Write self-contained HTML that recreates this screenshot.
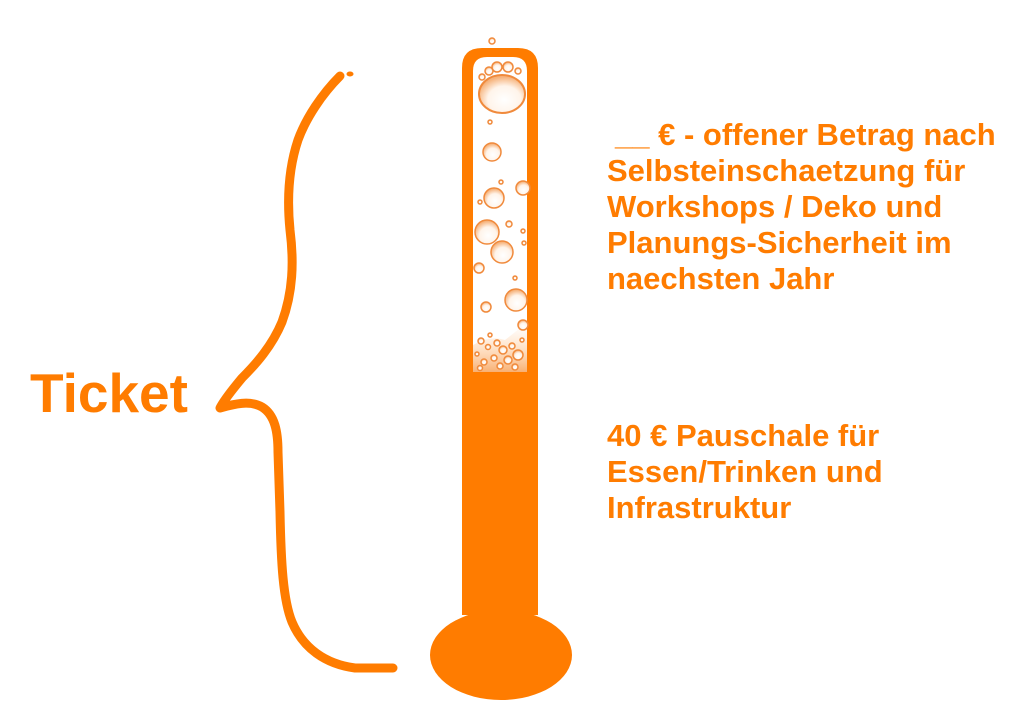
<!DOCTYPE html>
<html>
<head>
<meta charset="utf-8">
<style>
  html,body{margin:0;padding:0;background:#fff;}
  body{width:1024px;height:705px;overflow:hidden;}
  svg{display:block;}
  text{font-family:"Liberation Sans", Arial, sans-serif;font-weight:bold;fill:#ff7c00;}
</style>
</head>
<body>
<svg width="1024" height="705" viewBox="0 0 1024 705" xmlns="http://www.w3.org/2000/svg">
  <defs>
    <radialGradient id="bub" cx="55%" cy="65%" r="60%">
      <stop offset="0" stop-color="#ffffff"/>
      <stop offset="0.6" stop-color="#fff4ea"/>
      <stop offset="1" stop-color="#f6b27a"/>
    </radialGradient>
    <linearGradient id="haze" x1="0" y1="0" x2="0" y2="1">
      <stop offset="0" stop-color="#ffe6cf" stop-opacity="0"/>
      <stop offset="0.5" stop-color="#ffd2a8" stop-opacity="0.6"/>
      <stop offset="1" stop-color="#f7a764" stop-opacity="0.9"/>
    </linearGradient>
  </defs>

  <!-- Brace -->
  <path d="M340,76 C322,94 306,118 298,140 C288,170 287,200 290,230 C294,262 293,292 282,322 C272,346 256,364 242,378 C232,390 224,400 220,408 C234,404 250,400 262,407 C275,415 278,432 278,452 L280,512 C281,562 283,600 292,622 C303,648 325,664 355,668 L393,668"
        fill="none" stroke="#ff7c00" stroke-width="9" stroke-linecap="round" stroke-linejoin="round"/>
  <ellipse cx="350" cy="74" rx="3.5" ry="2.5" fill="#ff7c00"/>

  <!-- Thermometer tube -->
  <path d="M462,615 L462,68 Q462,48 482,48 L518,48 Q538,48 538,68 L538,615 Z" fill="#ff7c00"/>
  <ellipse cx="501" cy="655" rx="71" ry="45" fill="#ff7c00"/>
  <!-- inner glass -->
  <path d="M473,372 L473,71 Q473,57 487,57 L513,57 Q527,57 527,71 L527,372 Z" fill="#ffffff"/>

  <!-- bubble haze at bottom -->
  <path d="M473,372 L473,345 Q490,335 505,340 Q518,330 527,322 L527,372 Z" fill="url(#haze)"/>

  <!-- bubbles -->
  <g stroke="#f08a3c" stroke-width="1.5" fill="url(#bub)">
    <circle cx="492" cy="41" r="3"/>
    <ellipse cx="502" cy="94" rx="23" ry="19" stroke-width="2"/>
    <circle cx="489" cy="71" r="4"/>
    <circle cx="497" cy="67" r="5"/>
    <circle cx="508" cy="67" r="5"/>
    <circle cx="518" cy="71" r="3"/>
    <circle cx="482" cy="77" r="3"/>
    <circle cx="490" cy="122" r="2"/>
    <circle cx="492" cy="152" r="9"/>
    <circle cx="523" cy="188" r="7"/>
    <circle cx="501" cy="182" r="2"/>
    <circle cx="494" cy="198" r="10"/>
    <circle cx="480" cy="202" r="2"/>
    <circle cx="487" cy="232" r="12"/>
    <circle cx="509" cy="224" r="3"/>
    <circle cx="523" cy="231" r="2"/>
    <circle cx="502" cy="252" r="11"/>
    <circle cx="524" cy="243" r="2"/>
    <circle cx="479" cy="268" r="5"/>
    <circle cx="515" cy="278" r="2"/>
    <circle cx="516" cy="300" r="11"/>
    <circle cx="486" cy="307" r="5"/>
    <circle cx="523" cy="325" r="5"/>
    <circle cx="481" cy="341" r="3"/>
    <circle cx="488" cy="347" r="2.5"/>
    <circle cx="497" cy="343" r="3"/>
    <circle cx="503" cy="350" r="4"/>
    <circle cx="512" cy="346" r="3"/>
    <circle cx="518" cy="355" r="5"/>
    <circle cx="508" cy="360" r="4"/>
    <circle cx="494" cy="358" r="3"/>
    <circle cx="484" cy="362" r="3"/>
    <circle cx="477" cy="354" r="2"/>
    <circle cx="500" cy="366" r="3"/>
    <circle cx="515" cy="367" r="3"/>
    <circle cx="480" cy="368" r="2.5"/>
    <circle cx="522" cy="340" r="2"/>
    <circle cx="490" cy="335" r="2"/>
  </g>

  <!-- Right text block 1 -->
  <text font-size="31">
    <tspan x="615" y="145">__ € - offener Betrag nach</tspan>
    <tspan x="607" y="181">Selbsteinschaetzung für</tspan>
    <tspan x="607" y="217">Workshops / Deko und</tspan>
    <tspan x="607" y="253">Planungs-Sicherheit im</tspan>
    <tspan x="607" y="289">naechsten Jahr</tspan>
  </text>

  <!-- Right text block 2 -->
  <text font-size="31">
    <tspan x="607" y="446">40 € Pauschale für</tspan>
    <tspan x="607" y="482">Essen/Trinken und</tspan>
    <tspan x="607" y="518">Infrastruktur</tspan>
  </text>

  <!-- Ticket -->
  <text x="30" y="412" font-size="55">Ticket</text>
</svg>
</body>
</html>
